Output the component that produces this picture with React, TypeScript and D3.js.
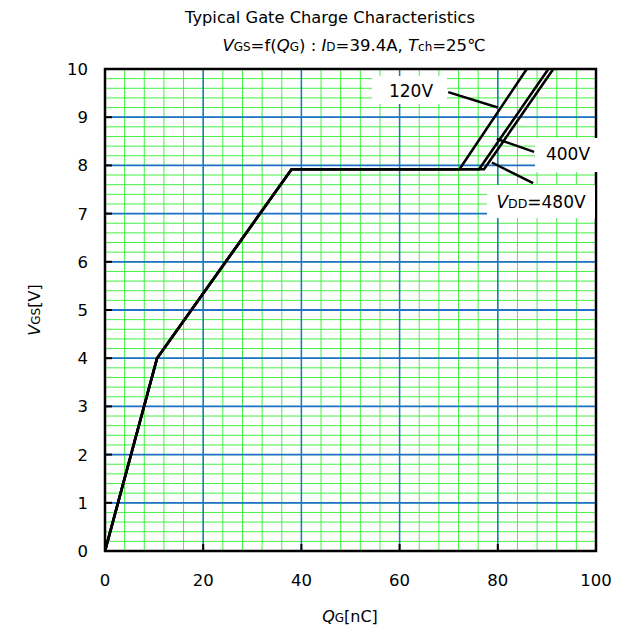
import React from 'react';
import * as d3 from 'd3';

// gate charge curves (Q in nC, V in V)
const q120 = [0, 10.6, 38, 72.2, 85.9];
const v120 = [0, 4.0, 7.92, 7.92, 10];
const q400 = [0, 10.6, 38, 76.2, 90.3];
const v400 = [0, 4.0, 7.92, 7.92, 10];
const q480 = [0, 10.6, 38, 77.2, 91.3];
const v480 = [0, 4.0, 7.92, 7.92, 10];

const xTicks = [0, 20, 40, 60, 80, 100];
const yTicks = [0, 1, 2, 3, 4, 5, 6, 7, 8, 9, 10];

const W = 629;
const H = 632;
const M = { left: 105, right: 596, top: 69, bottom: 551 };

const FONT = '"DejaVu Sans", Verdana, sans-serif';

export default function App() {
  const x = d3.scaleLinear().domain([0, 100]).range([M.left, M.right]);
  const y = d3.scaleLinear().domain([0, 10]).range([M.bottom, M.top]);

  const minorX = d3.range(0, 100.01, 4);
  const minorY = d3.range(0, 10.01, 0.2);

  const line = d3.line<[number, number]>().x(d => x(d[0])).y(d => y(d[1]));
  const curves = [
    [q120, v120],
    [q400, v400],
    [q480, v480],
  ].map(([qs, vs]) => line(qs.map((q, i) => [q, vs[i]] as [number, number])) || '');

  // leader lines in data units
  const leaders: [number, number, number, number][] = [
    [69.9, 9.52, 80.0, 9.2],
    [79.8, 8.55, 87.4, 8.28],
    [78.8, 8.06, 87.2, 7.63],
  ];

  const blue = '#1f72c6';
  const green = '#44f044';

  return (
    <div style={{ position: 'absolute', left: 0, top: 0 }}>
      <svg width={W} height={H} style={{ display: 'block', background: '#fff' }} fontFamily={FONT}>
        <defs>
          <clipPath id="plot">
            <rect x={M.left} y={M.top} width={M.right - M.left} height={M.bottom - M.top} />
          </clipPath>
        </defs>

        {/* minor grid */}
        {minorX.map(v => (
          <line key={'mx' + v} x1={x(v)} x2={x(v)} y1={M.top} y2={M.bottom} stroke={green} strokeWidth={1} />
        ))}
        {minorY.map(v => (
          <line key={'my' + v} x1={M.left} x2={M.right} y1={y(v)} y2={y(v)} stroke={green} strokeWidth={1} />
        ))}
        {/* major grid */}
        {xTicks.map(v => (
          <line key={'gx' + v} x1={x(v)} x2={x(v)} y1={M.top} y2={M.bottom} stroke={blue} strokeWidth={1.5} />
        ))}
        {yTicks.map(v => (
          <line key={'gy' + v} x1={M.left} x2={M.right} y1={y(v)} y2={y(v)} stroke={blue} strokeWidth={1.8} />
        ))}

        {/* curves */}
        <g clipPath="url(#plot)">
          {curves.map((d, i) => (
            <path key={i} d={d} fill="none" stroke="#000" strokeWidth={2.6} strokeLinejoin="miter" />
          ))}
        </g>

        {/* frame */}
        <rect x={M.left} y={M.top} width={M.right - M.left} height={M.bottom - M.top} fill="none" stroke="#000" strokeWidth={2.5} />
        {yTicks.map(v => (
          <line key={'ty' + v} x1={M.left} x2={M.left + 7} y1={y(v)} y2={y(v)} stroke="#000" strokeWidth={2} />
        ))}
        {xTicks.map(v => (
          <line key={'tx' + v} x1={x(v)} x2={x(v)} y1={M.bottom} y2={M.bottom - 7} stroke="#000" strokeWidth={2} />
        ))}

        {/* annotations */}
        <rect x={372} y={76} width={75} height={28} fill="#fff" />
        <rect x={535} y={138} width={70} height={34} fill="#fff" />
        <rect x={487} y={185} width={108} height={33} fill="#fff" />
        {leaders.map(([a, b, c, d], i) => (
          <line key={'ld' + i} x1={x(a)} y1={y(b)} x2={x(c)} y2={y(d)} stroke="#000" strokeWidth={2.5} />
        ))}
        <text x={411} y={97} fontSize={17} textAnchor="middle">120V</text>
        <text x={568} y={160} fontSize={17} textAnchor="middle">400V</text>
        <text x={541} y={208} fontSize={17} textAnchor="middle">
          <tspan fontStyle="italic">V</tspan>
          <tspan fontSize={12.5}>DD</tspan>
          <tspan>=480V</tspan>
        </text>

        {/* tick labels */}
        {yTicks.map(v => (
          <text key={'ly' + v} x={88} y={y(v) + 6} fontSize={16.5} textAnchor="end">{v}</text>
        ))}
        {xTicks.map(v => (
          <text key={'lx' + v} x={x(v)} y={586} fontSize={16.5} textAnchor="middle">{v}</text>
        ))}

        {/* titles */}
        <text x={330} y={23} fontSize={16.3} textAnchor="middle">Typical Gate Charge Characteristics</text>
        <text x={354} y={51} fontSize={16.5} textAnchor="middle">
          <tspan fontStyle="italic">V</tspan>
          <tspan fontSize={12}>GS</tspan>
          <tspan>=f(</tspan>
          <tspan fontStyle="italic">Q</tspan>
          <tspan fontSize={12}>G</tspan>
          <tspan>) : </tspan>
          <tspan fontStyle="italic">I</tspan>
          <tspan fontSize={12}>D</tspan>
          <tspan>=39.4A, </tspan>
          <tspan fontStyle="italic">T</tspan>
          <tspan fontSize={12}>ch</tspan>
          <tspan>=25℃</tspan>
        </text>

        {/* axis titles */}
        <text x={350} y={622} fontSize={16} textAnchor="middle">
          <tspan fontStyle="italic">Q</tspan>
          <tspan fontSize={12}>G</tspan>
          <tspan>[nC]</tspan>
        </text>
        <text transform={`translate(40, ${(M.top + M.bottom) / 2}) rotate(-90)`} fontSize={16} textAnchor="middle">
          <tspan fontStyle="italic">V</tspan>
          <tspan fontSize={12}>GS</tspan>
          <tspan>[V]</tspan>
        </text>
      </svg>
    </div>
  );
}
